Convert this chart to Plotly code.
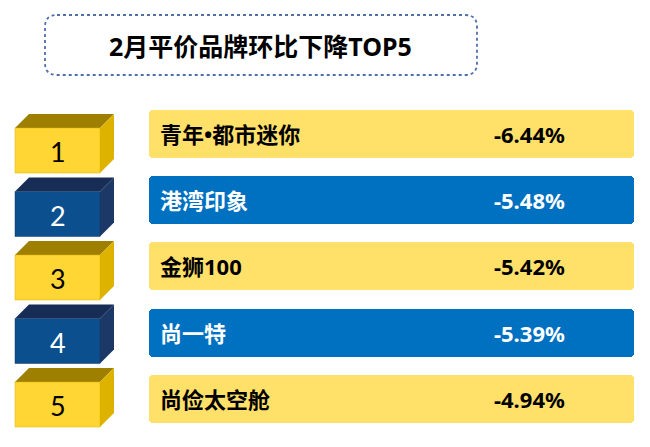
"""
2月平价品牌环比下降TOP5 信息图
"""

import plotly.graph_objects as go

# 数据
title = '2月平价品牌环比下降TOP5'
ranks = [1, 2, 3, 4, 5]
brands = ['青年•都市迷你', '港湾印象', '金狮100', '尚一特', '尚俭太空舱']
changes = [-6.44, -5.48, -5.42, -5.39, -4.94]

# 样式（黄/蓝交替）
bar_colors = ['#FFE16A', '#0070C0']
text_colors = ['black', 'white']
box_front = ['#FFD633', '#0C4F8E']
box_top = ['#9E7F00', '#172D55']
box_side = ['#DDB300', '#1B3866']

W, H = 650, 447
FONT = 'Noto Sans, Noto Sans CJK SC'

fig = go.Figure()

# 右侧横条
bar_y = [134 + i * 66.2 for i in range(len(brands))]
fig.add_trace(go.Bar(
    y=bar_y,
    x=[485] * len(brands),
    base=[149] * len(brands),
    orientation='h',
    width=48,
    marker=dict(color=[bar_colors[i % 2] for i in range(len(brands))],
                cornerradius=4, line=dict(width=0)),
    hoverinfo='skip',
    showlegend=False
))

shapes = []
annotations = []

# 标题框（圆角虚线）
x0, x1, y0, y1, r = 45, 477, 15, 75, 12
shapes.append(dict(
    type='path',
    path=(f'M {x0+r},{y0} L {x1-r},{y0} Q {x1},{y0} {x1},{y0+r} '
          f'L {x1},{y1-r} Q {x1},{y1} {x1-r},{y1} L {x0+r},{y1} '
          f'Q {x0},{y1} {x0},{y1-r} L {x0},{y0+r} Q {x0},{y0} {x0+r},{y0} Z'),
    line=dict(color='#4F6FA8', width=1.8, dash='dot'),
    fillcolor='white', layer='below'
))
annotations.append(dict(
    x=260, y=46, text=f'<b>{title}</b>', showarrow=False,
    font=dict(family=FONT, size=25, color='black'),
    xanchor='center', yanchor='middle'
))

# 左侧立体编号块
d = 14   # 透视偏移
for i, rank in enumerate(ranks):
    k = i % 2
    top = 114 + i * 63.5
    fx0, fx1 = 15, 100
    fy0, fy1 = top + d, top + d + 45
    # 顶面
    shapes.append(dict(
        type='path',
        path=f'M {fx0},{fy0} L {fx0+d},{top} L {fx1+d},{top} L {fx1},{fy0} Z',
        fillcolor=box_top[k], line=dict(width=0), layer='above'
    ))
    # 侧面
    shapes.append(dict(
        type='path',
        path=f'M {fx1},{fy0} L {fx1+d},{top} L {fx1+d},{fy1-d} L {fx1},{fy1} Z',
        fillcolor=box_side[k], line=dict(width=0), layer='above'
    ))
    # 正面
    shapes.append(dict(
        type='rect', x0=fx0, x1=fx1, y0=fy0, y1=fy1,
        fillcolor=box_front[k], line=dict(width=0.5, color=box_side[k]), layer='above'
    ))
    annotations.append(dict(
        x=(fx0 + fx1) / 2, y=(fy0 + fy1) / 2 + 1, text=str(rank), showarrow=False,
        font=dict(family='Lato', size=27, color=text_colors[k]),
        xanchor='center', yanchor='middle'
    ))

# 品牌名与环比
for i, (brand, chg) in enumerate(zip(brands, changes)):
    k = i % 2
    annotations.append(dict(
        x=158, y=bar_y[i], text=f'<b>{brand}</b>', showarrow=False,
        font=dict(family=FONT, size=22, color=text_colors[k]),
        xanchor='left', yanchor='middle'
    ))
    annotations.append(dict(
        x=529, y=bar_y[i], text=f'<b>{chg:.2f}%</b>', showarrow=False,
        font=dict(family=FONT, size=22, color=text_colors[k]),
        xanchor='center', yanchor='middle'
    ))

fig.update_layout(
    width=W, height=H,
    margin=dict(l=0, r=0, t=0, b=0),
    plot_bgcolor='white', paper_bgcolor='white',
    xaxis=dict(range=[0, W], visible=False, fixedrange=True),
    yaxis=dict(range=[H, 0], visible=False, fixedrange=True),
    shapes=shapes,
    annotations=annotations,
    bargap=0
)

# 去掉页面默认边距，使图表贴齐窗口
fig.write_html('out.html', config={'displayModeBar': False},
               post_script="document.body.style.margin='0';")
